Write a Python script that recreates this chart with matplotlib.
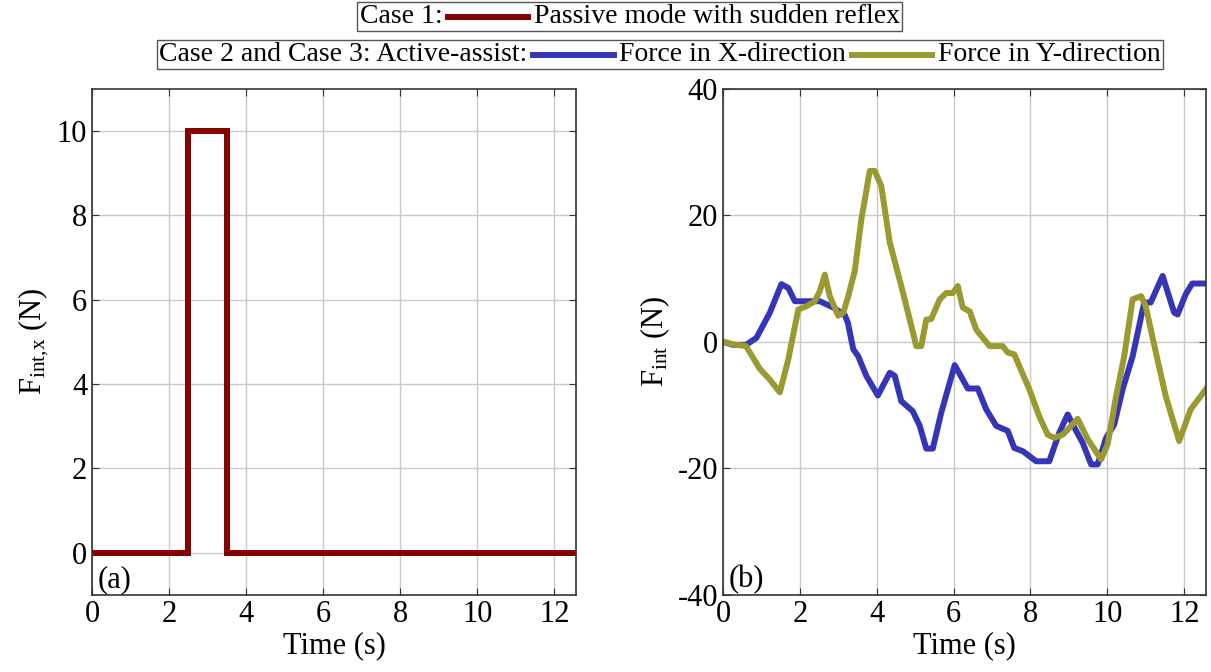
import numpy as np
import matplotlib
matplotlib.use("Agg")
import matplotlib.pyplot as plt
from matplotlib.lines import Line2D
from matplotlib.offsetbox import AnchoredOffsetbox, HPacker, TextArea, DrawingArea

plt.rcParams['font.family'] = ['Liberation Serif', 'DejaVu Serif']
plt.rcParams['mathtext.fontset'] = 'custom'
plt.rcParams['mathtext.rm'] = 'Liberation Serif'
plt.rcParams['mathtext.it'] = 'Liberation Serif:italic'
plt.rcParams['axes.unicode_minus'] = False

# (a) passive mode with sudden reflex
t_a = [0, 2.5, 2.5, 3.5, 3.5, 12.566]
f_a = [0, 0, 10, 10, 0, 0]

# (b) active-assist, force in X-direction
t_x = [0, 0.26, 0.6, 0.87, 1.22, 1.52, 1.7, 1.87, 2.52, 2.87, 3.17, 3.25, 3.39, 3.52,
       3.73, 4.03, 4.34, 4.47, 4.64, 4.94, 5.12, 5.29, 5.46, 5.68, 6.03, 6.37, 6.63,
       6.85, 7.11, 7.41, 7.58, 7.8, 8.15, 8.49, 8.75, 8.97, 9.19, 9.36, 9.58, 9.75,
       9.97, 10.18, 10.4, 10.66, 10.96, 11.13, 11.44, 11.74, 11.83, 12.04, 12.21, 12.566]
f_x = [0, -0.5, -0.5, 0.6, 4.6, 9.1, 8.5, 6.4, 6.4, 5.4, 4.2, 3.0, -1.2, -2.3,
       -5.4, -8.5, -4.9, -5.4, -9.4, -11.0, -13.3, -16.9, -16.9, -11.2, -3.7, -7.4, -7.4,
       -10.7, -13.3, -14.1, -16.8, -17.3, -18.9, -18.9, -14.4, -11.5, -14.1, -16.0, -19.4, -19.4,
       -15.2, -13.1, -7.5, -2.3, 6.2, 6.2, 10.4, 4.6, 4.3, 7.5, 9.2, 9.2]

# (b) active-assist, force in Y-direction
t_y = [0, 0.26, 0.6, 0.96, 1.22, 1.48, 1.7, 1.96, 2.17, 2.39, 2.52, 2.65, 2.78, 3.0,
       3.13, 3.26, 3.43, 3.6, 3.82, 3.95, 4.12, 4.34, 4.64, 4.86, 5.03, 5.16, 5.29, 5.42,
       5.64, 5.81, 5.98, 6.11, 6.24, 6.42, 6.59, 6.94, 7.28, 7.41, 7.58, 7.97, 8.23, 8.45,
       8.62, 8.84, 8.97, 9.23, 9.49, 9.84, 10.01, 10.23, 10.44, 10.66, 10.88, 11.0, 11.18,
       11.52, 11.87, 12.17, 12.566]
f_y = [0, -0.4, -0.7, -4.3, -6.0, -8.0, -2.8, 5.1, 5.6, 6.4, 8.0, 10.6, 7.2, 4.1,
       4.6, 7.2, 11.2, 19.3, 27.0, 27.0, 24.6, 15.7, 8.8, 3.5, -0.7, -0.7, 3.5, 3.6,
       6.7, 7.7, 7.7, 8.8, 5.4, 4.8, 1.9, -0.7, -0.7, -1.7, -2.0, -7.5, -11.8, -14.7,
       -15.2, -14.7, -13.9, -12.2, -15.4, -18.6, -16.2, -8.6, -2.3, 6.7, 7.2, 5.6, 0.6,
       -8.6, -15.7, -10.7, -7.5]

red = '#850000'
blue = '#3535b8'
olive = '#9a9a30'
fs = 22
lfs = 20

fig = plt.figure(figsize=(12.11, 6.72), dpi=100)
ax1 = fig.add_axes([0.076, 0.115, 0.3997, 0.753])
ax2 = fig.add_axes([0.597, 0.115, 0.3988, 0.753])

ax1.plot(t_a, f_a, color=red, lw=4.3, solid_joinstyle='miter')
ax2.plot(t_x, f_x, color=blue, lw=4.3)
ax2.plot(t_y, f_y, color=olive, lw=4.3)

for ax in (ax1, ax2):
    ax.set_xlim(0, 4 * np.pi)
    ax.set_xticks(range(0, 13, 2))
    ax.grid(True, color='#c8c8c8', lw=1)
    ax.tick_params(direction='in', top=True, right=True, labelsize=fs, length=5, color='#333333')
    for s in ax.spines.values():
        s.set_color('#333333')
        s.set_linewidth(1.2)
    ax.set_xlabel('Time (s)', fontsize=fs, labelpad=2)

ax1.set_ylim(-1, 11)
ax1.set_yticks(range(0, 11, 2))
ax1.set_ylabel(r'F$_{\mathrm{int{,}x}}$ (N)', fontsize=fs)
ax1.text(0.012, 0.015, '(a)', transform=ax1.transAxes, fontsize=fs)

ax2.set_ylim(-40, 40)
ax2.set_yticks(range(-40, 41, 20))
ax2.set_ylabel(r'F$_{\mathrm{int}}$ (N)', fontsize=fs)
ax2.text(0.012, 0.015, '(b)', transform=ax2.transAxes, fontsize=fs)


def legend_row(items, x, y):
    # items: ('text', label) or ('line', colour)
    kids = []
    for kind, val in items:
        if kind == 'text':
            kids.append(TextArea(val, textprops=dict(fontsize=lfs)))
        else:
            da = DrawingArea(62, 14, 0, 0)
            da.add_artist(Line2D([2, 60], [7, 7], color=val, lw=4.3))
            kids.append(da)
    row = HPacker(children=kids, align='center', pad=0, sep=2)
    box = AnchoredOffsetbox(loc='upper center', child=row, pad=0.15, borderpad=0,
                            frameon=True, bbox_to_anchor=(x, y),
                            bbox_transform=fig.transFigure)
    box.patch.set_boxstyle('square', pad=0)
    box.patch.set_edgecolor('#555555')
    box.patch.set_linewidth(1)
    fig.add_artist(box)


legend_row([('text', 'Case 1:'), ('line', red), ('text', 'Passive mode with sudden reflex')],
           0.52, 0.997)
legend_row([('text', 'Case 2 and Case 3: Active-assist:'), ('line', blue),
            ('text', 'Force in X-direction'), ('line', olive), ('text', 'Force in Y-direction')],
           0.545, 0.94)

fig.savefig('out.png', dpi=100)
